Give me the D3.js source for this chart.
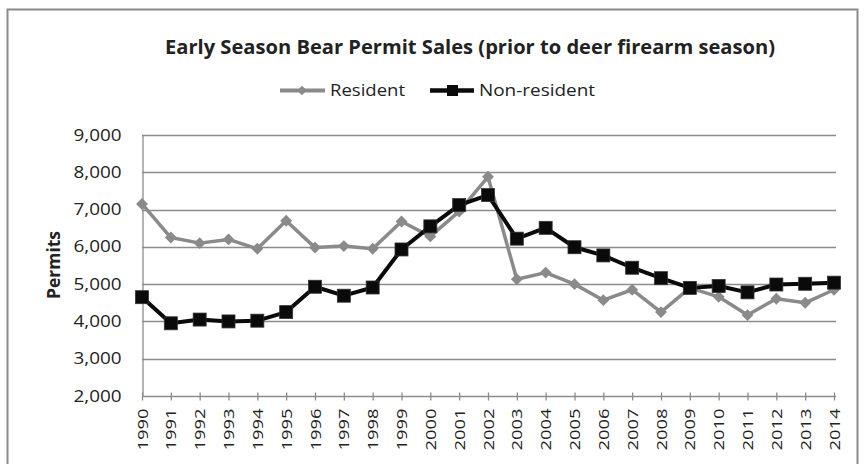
<!DOCTYPE html>
<html>
<head>
<meta charset="utf-8">
<script src="https://cdn.jsdelivr.net/npm/d3@7"></script>
<style>
  html, body { margin: 0; padding: 0; background: #fff; }
  svg { display: block; }
  text { font-family: "Open Sans", "DejaVu Sans", sans-serif; fill: #222; }
</style>
</head>
<body>
<script>
const years = ["1990","1991","1992","1993","1994","1995","1996","1997","1998","1999","2000","2001","2002","2003","2004","2005","2006","2007","2008","2009","2010","2011","2012","2013","2014"];
const resident = [7150,6250,6100,6200,5950,6700,5980,6020,5950,6680,6280,6950,7880,5130,5310,5000,4570,4850,4250,4900,4660,4170,4610,4500,4850];
const nonResident = [4650,3950,4050,4000,4020,4250,4930,4690,4910,5930,6550,7120,7390,6220,6510,5990,5770,5440,5160,4900,4950,4780,4990,5010,5040];
const yTicks = [2000,3000,4000,5000,6000,7000,8000,9000];
const seriesNames = ["Resident","Non-resident"];
const titleText = "Early Season Bear Permit Sales (prior to deer firearm season)";
const yTitle = "Permits";

const W = 864, H = 464;
const svg = d3.select("body").append("svg").attr("width", W).attr("height", H);

// outer chart border
svg.append("rect").attr("x", 7.5).attr("y", 9.5).attr("width", 850).attr("height", 470)
  .attr("fill", "#fff").attr("stroke", "#8a8a8a").attr("stroke-width", 2);

const x = d3.scalePoint().domain(years).range([142, 834]);
const y = d3.scaleLinear().domain([2000, 9000]).range([396, 135]);

// gridlines
svg.append("g").selectAll("line").data(yTicks.slice(1)).join("line")
  .attr("x1", 142).attr("x2", 836)
  .attr("y1", d => Math.round(y(d)) + 0.5).attr("y2", d => Math.round(y(d)) + 0.5)
  .attr("stroke", "#8c8c8c").attr("stroke-width", 1.3);

// y axis
const yAxis = svg.append("g").attr("transform", "translate(142.5,0)")
  .call(d3.axisLeft(y).tickValues(yTicks).tickSize(0).tickPadding(21).tickFormat(d3.format(",")));
yAxis.select(".domain").attr("stroke", "#8c8c8c").attr("stroke-width", 1.3);
yAxis.selectAll("text").attr("font-size", 16).attr("fill", "#222")
  .attr("textLength", 48).attr("lengthAdjust", "spacingAndGlyphs");

// x axis
const xAxis = svg.append("g").attr("transform", `translate(0,${Math.round(y(2000)) + 0.5})`)
  .call(d3.axisBottom(x).tickSizeInner(4).tickSizeOuter(0).tickPadding(0));
xAxis.select(".domain").attr("stroke", "#8c8c8c").attr("stroke-width", 1.3).attr("d", "M142,0H836");
xAxis.selectAll(".tick line").attr("y1", -4).attr("y2", 4).attr("stroke", "#8c8c8c").attr("stroke-width", 1.3);
xAxis.selectAll(".tick text")
  .attr("font-size", 14).attr("fill", "#222")
  .attr("text-anchor", "end").attr("dy", "0.36em")
  .attr("transform", "translate(0,12) rotate(-90)")
  .attr("x", 0).attr("y", 0)
  .attr("textLength", 42).attr("lengthAdjust", "spacingAndGlyphs");

// y title
svg.append("text").attr("transform", "translate(60,265) rotate(-90)")
  .attr("text-anchor", "middle").attr("font-size", 17).attr("font-weight", "bold")
  .attr("textLength", 68).attr("lengthAdjust", "spacingAndGlyphs")
  .text(yTitle);

// title
svg.append("text").attr("x", 470).attr("y", 54).attr("text-anchor", "middle")
  .attr("font-size", 19).attr("font-weight", "bold")
  .attr("textLength", 610).attr("lengthAdjust", "spacingAndGlyphs")
  .text(titleText);

const line = d3.line().x((d, i) => x(years[i])).y(d => y(d));

// resident
const resColor = "#8a8a8a";
svg.append("path").datum(resident).attr("d", line).attr("fill", "none")
  .attr("stroke", resColor).attr("stroke-width", 3.5).attr("stroke-linejoin", "round");
svg.append("g").selectAll("path").data(resident).join("path")
  .attr("d", d3.symbol(d3.symbolDiamond2 || d3.symbolDiamond, 90))
  .attr("transform", (d, i) => `translate(${x(years[i])},${y(d)})`)
  .attr("fill", resColor);

// non-resident
const nrColor = "#0a0a0a";
svg.append("path").datum(nonResident).attr("d", line).attr("fill", "none")
  .attr("stroke", nrColor).attr("stroke-width", 4).attr("stroke-linejoin", "round");
svg.append("g").selectAll("rect").data(nonResident).join("rect")
  .attr("x", (d, i) => x(years[i]) - 6.5).attr("y", d => y(d) - 6.5)
  .attr("width", 13).attr("height", 13)
  .attr("fill", nrColor).attr("stroke", "#333").attr("stroke-width", 0.8);

// legend
const lg = svg.append("g");
lg.append("line").attr("x1", 280).attr("x2", 325).attr("y1", 90.5).attr("y2", 90.5)
  .attr("stroke", resColor).attr("stroke-width", 4);
lg.append("path").attr("d", d3.symbol(d3.symbolDiamond2 || d3.symbolDiamond, 60))
  .attr("transform", "translate(302,90.5)").attr("fill", resColor);
lg.append("text").attr("x", 330).attr("y", 90.5).attr("dy", "0.36em").attr("font-size", 16)
  .attr("textLength", 75).attr("lengthAdjust", "spacingAndGlyphs").text(seriesNames[0]);
lg.append("line").attr("x1", 430).attr("x2", 474).attr("y1", 90.5).attr("y2", 90.5)
  .attr("stroke", nrColor).attr("stroke-width", 4.5);
lg.append("rect").attr("x", 447).attr("y", 85).attr("width", 11).attr("height", 11).attr("fill", nrColor);
lg.append("text").attr("x", 479).attr("y", 90.5).attr("dy", "0.36em").attr("font-size", 16)
  .attr("textLength", 116).attr("lengthAdjust", "spacingAndGlyphs").text(seriesNames[1]);
</script>
</body>
</html>
